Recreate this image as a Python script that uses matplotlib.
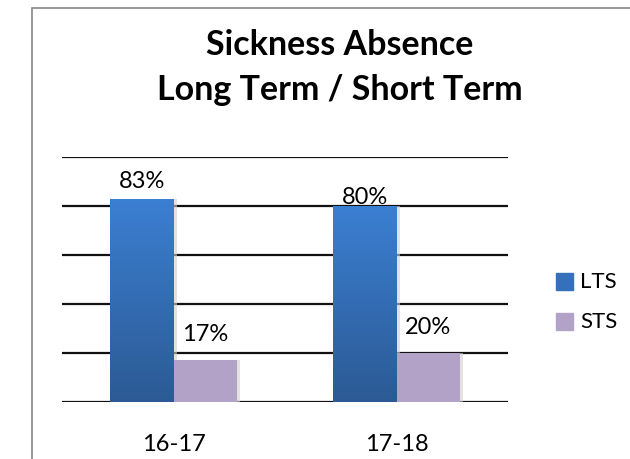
import numpy as np
import matplotlib
matplotlib.use("Agg")
import matplotlib.pyplot as plt
from matplotlib.patches import Rectangle
from matplotlib.colors import LinearSegmentedColormap

categories = ["16-17", "17-18"]
lts = [0.83, 0.80]
sts = [0.17, 0.20]
lts_labels = ["83%", "80%"]
sts_labels = ["17%", "20%"]

plt.rcParams['font.family'] = ['Lato', 'DejaVu Sans']

fig = plt.figure(figsize=(6.3, 4.6), dpi=100)
# outer chart frame
fig.add_artist(Rectangle((32/630, -0.1), 1.0, 1 - 9/460 + 0.1, transform=fig.transFigure,
                         fill=False, edgecolor='#888888', linewidth=1.2))

ax = fig.add_axes([62/630, 1 - 403/460, 446/630, 245/460])
for s in ax.spines.values():
    s.set_visible(False)
ax.set_xticks([])
ax.set_yticks([])
for y in np.arange(0, 1.01, 0.2):
    ax.axhline(y, color='#111111', linewidth=1.6, zorder=1)

w = 0.286
x = np.arange(len(categories))
blue_cmap = LinearSegmentedColormap.from_list('b', ['#2C5A94', '#3B7FD2'])
grad = np.linspace(0, 1, 256).reshape(-1, 1)

lts_bars = ax.bar(x - w/2, lts, w, color='#3A78C8', zorder=2, label='LTS')
for b in lts_bars:
    bx, by = b.get_x(), b.get_y()
    bw, bh = b.get_width(), b.get_height()
    im = ax.imshow(grad, cmap=blue_cmap, origin='lower', aspect='auto',
                   extent=[bx, bx + bw, by, by + bh], zorder=3)
    im.set_clip_path(b)
sts_bars = ax.bar(x + w/2, sts, w, color='#B3A2C7', zorder=2, label='STS')
for b in list(lts_bars) + list(sts_bars):
    sh = Rectangle((b.get_x() + b.get_width(), 0), 0.014, b.get_height(),
                   color='#d0d0d0', alpha=0.6, zorder=1.5, linewidth=0)
    ax.add_patch(sh)

ax.set_xlim(-0.5, 1.5)
ax.set_ylim(0, 1)

lts_off = [13, 7]
sts_off = [19.5, 19]
for i in range(len(categories)):
    ax.annotate(lts_labels[i], (x[i] - w/2, lts[i]), xytext=(0, lts_off[i]),
                textcoords='offset points', ha='center', va='center', fontsize=17, zorder=5)
    ax.annotate(sts_labels[i], (x[i] + w/2, sts[i]), xytext=(0, sts_off[i]),
                textcoords='offset points', ha='center', va='center', fontsize=17, zorder=5)
    ax.annotate(categories[i], (x[i], 0), xytext=(0, -30),
                textcoords='offset points', ha='center', va='center', fontsize=17,
                annotation_clip=False)

fig.text(340/630, 1 - 45/460, "Sickness Absence", ha='center', va='center',
         fontsize=24.5, fontweight='bold')
fig.text(340/630, 1 - 90/460, "Long Term / Short Term", ha='center', va='center',
         fontsize=24.5, fontweight='bold')

# legend
fig.add_artist(Rectangle((556/630, 1 - 291/460), 17/630, 17/460, transform=fig.transFigure,
                         color='#3570BA'))
fig.add_artist(Rectangle((556/630, 1 - 331/460), 17/630, 17/460, transform=fig.transFigure,
                         color='#B3A2C7'))
fig.text(580/630, 1 - 282/460, "LTS", ha='left', va='center', fontsize=16)
fig.text(580/630, 1 - 322/460, "STS", ha='left', va='center', fontsize=16)

fig.savefig("out.png", dpi=100)
